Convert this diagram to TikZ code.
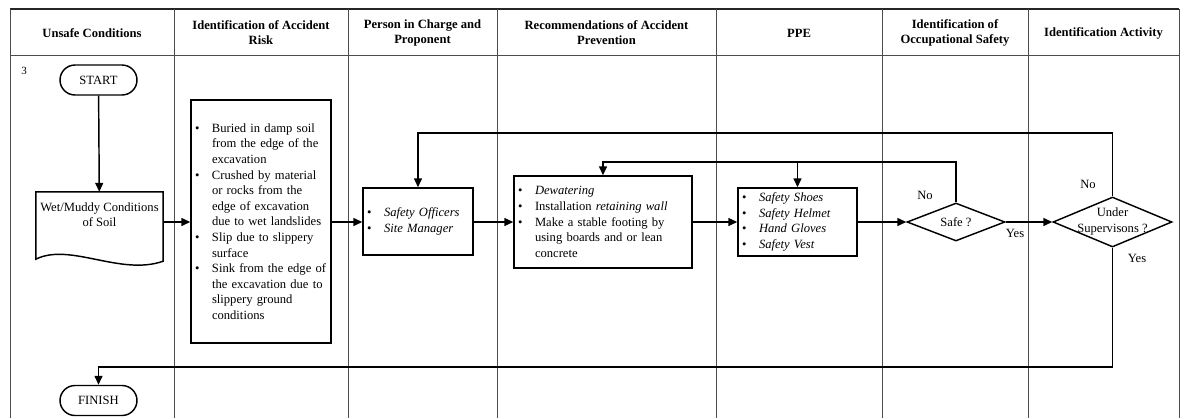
\documentclass[tikz,border=0pt]{standalone}
\usepackage{fontspec}
\setmainfont{Liberation Serif}
\usetikzlibrary{shapes.misc,shapes.geometric,arrows.meta}

% bulleted line and its continuation line
\newcommand{\bitem}[1]{\makebox[17pt][l]{\textbullet}#1}
\newcommand{\citem}[1]{\hspace*{17pt}#1}

\begin{document}
\begin{tikzpicture}[x=1pt,y=-1pt,
  every node/.style={font=\fontsize{12.6}{15.6}\selectfont},
  grid/.style={draw=black!70,line width=0.9pt},
  frame/.style={draw=black!85,line width=1.6pt},
  flow/.style={draw=black,line width=1.45pt},
  arr/.style={flow,-{Triangle[length=9pt,width=8pt]}},
  term/.style={flow,rounded rectangle,minimum width=77pt,minimum height=30pt,inner sep=0pt},
  listbox/.style={flow,rectangle,inner xsep=4pt,inner ysep=0pt,align=left},
  head/.style={font=\bfseries\fontsize{12.6}{15}\selectfont,align=center},
  decision/.style={flow,diamond,inner sep=0pt},
  lbl/.style={inner sep=0pt}
]
\useasboundingbox (0,0) rectangle (1187,418);

% ---- swimlane table ----
\draw[frame] (10,9) -- (1179,9);
\draw[grid] (10,55) -- (1179,55);
\foreach \cx in {10,174,348,497,716,882,1028,1179}
  \draw[grid] (\cx,9) -- (\cx,418);

\node[head] (h1) at (92,33)    {Unsafe Conditions};
\node[head] (h2) at (261,32.5) {Identification of Accident\\Risk};
\node[head] (h3) at (422.5,32.5) {Person in Charge and\\Proponent};
\node[head] (h4) at (606.5,32.5) {Recommendations of Accident\\Prevention};
\node[head] (h5) at (799,33)   {PPE};
\node[head] (h6) at (955,32.5) {Identification of\\Occupational Safety};
\node[head] (h7) at (1103.5,33) {Identification Activity};

\node[lbl,font=\fontsize{11}{13}\selectfont] (rownum) at (24,71) {3};

% ---- flow nodes ----
\node[term] (start) at (98.5,80) {START};

\node[minimum width=127pt,minimum height=60pt,inner sep=0pt] (doc) at (99.5,222) {};
\draw[flow] (doc.north west) -- (doc.north east) -- ([yshift=-9pt]doc.south east)
  .. controls ([xshift=-43pt,yshift=-24pt]doc.south east) and ([xshift=34pt,yshift=10pt]doc.south west)
  .. ([yshift=-7pt]doc.south west) -- cycle;
\node[align=center,inner sep=0pt] (doctext) at (99.5,214.5) {Wet/Muddy Conditions\\of Soil};

\node[listbox,text width=132pt,minimum height=243pt] (risk) at (261,221.5) {%
\bitem{Buried in damp soil}\\
\citem{from the edge of the}\\
\citem{excavation}\\
\bitem{Crushed by material}\\
\citem{or rocks from the}\\
\citem{edge of excavation}\\
\citem{due to wet landslides}\\
\bitem{Slip due to slippery}\\
\citem{surface}\\
\bitem{Sink from the edge of}\\
\citem{the excavation due to}\\
\citem{slippery ground}\\
\citem{conditions}};

\node[listbox,text width=102pt,minimum height=67pt] (person) at (418,221.5) {%
\bitem{\textit{Safety Officers}}\\
\bitem{\textit{Site Manager}}};

\node[listbox,text width=170pt,minimum height=92pt] (rec) at (603,222) {%
\bitem{\textit{Dewatering}}\\
\bitem{Installation \textit{retaining wall}}\\
\bitem{Make a stable footing by}\\
\citem{using boards and or lean}\\
\citem{concrete}};

\node[listbox,text width=111pt,minimum height=68pt] (ppe) at (797.5,222) {%
\bitem{\textit{Safety Shoes}}\\
\bitem{\textit{Safety Helmet}}\\
\bitem{\textit{Hand Gloves}}\\
\bitem{\textit{Safety Vest}}};

\node[decision,minimum width=98pt,minimum height=38pt] (safe) at (956,222) {};
\node[lbl] (safetext) at (956,222) {Safe ?};

\node[decision,minimum width=119pt,minimum height=50pt] (under) at (1112.5,222) {};
\node[lbl,align=center] (undertext) at (1112.5,221.5) {Under\\Supervisons ?};

\node[term] (finish) at (98.5,400.5) {FINISH};

\node[lbl] (no1)  at (925,195)  {No};
\node[lbl] (yes1) at (1015,233) {Yes};
\node[lbl] (no2)  at (1088,184) {No};
\node[lbl] (yes2) at (1137,258) {Yes};

% ---- connectors ----
\coordinate (loopA) at (956,162);
\coordinate (loopB) at (1112.5,133);
\coordinate (loopC) at (1112.5,367);

\draw[arr] (start) -- (doc);
\draw[arr] (doc.east) -- (risk.west |- doc.east);
\draw[arr] (risk.east |- doc.east) -- (person.west |- doc.east);
\draw[arr] (person.east |- rec.west) -- (rec.west);
\draw[arr] (rec.east) -- (ppe.west);
\draw[arr] (ppe.east) -- (safe.west);
\draw[arr] (safe.east) -- (under.west);
\draw[arr] (safe.north) -- (loopA) -| (rec.north);
\draw[arr] (ppe.north |- loopA) -- (ppe.north);
\draw[arr] (under.north) -- (loopB) -| (person.north);
\draw[arr] (under.south) -- (loopC) -| (finish.north);
\end{tikzpicture}
\end{document}
